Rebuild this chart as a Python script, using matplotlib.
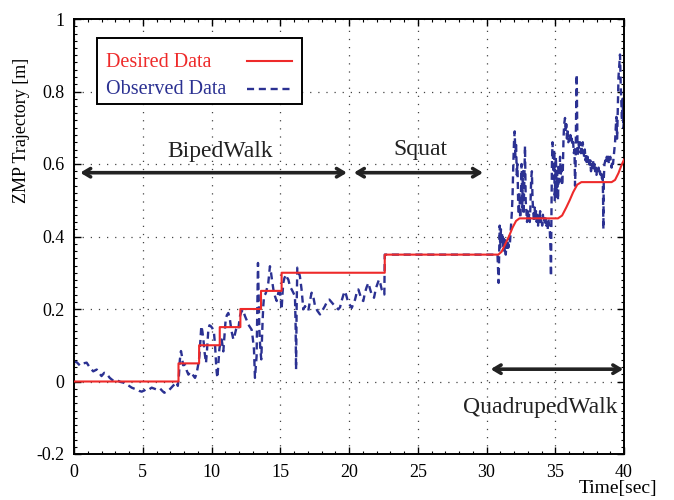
import matplotlib
matplotlib.use("Agg")
import matplotlib.pyplot as plt
from matplotlib.patches import Rectangle
from matplotlib.lines import Line2D
from matplotlib.ticker import MultipleLocator

plt.rcParams['font.family'] = ['Liberation Serif', 'DejaVu Serif']

# Desired ZMP trajectory (time [sec], value [m])
desired_t = [0, 7.6, 7.6, 9.1, 9.1, 10.6, 10.6, 12.1, 12.1, 13.6, 13.6, 15.1, 15.1,
             22.6, 22.6, 30.86, 31.1, 31.4, 31.63, 31.9, 32.15, 32.4,
             35.2, 35.5, 35.8, 36.05, 36.3, 36.6, 36.9,
             39.1, 39.35, 39.6, 39.8, 40.0]
desired_v = [0, 0, 0.05, 0.05, 0.1, 0.1, 0.15, 0.15, 0.2, 0.2, 0.25, 0.25, 0.3,
             0.3, 0.35, 0.35, 0.358, 0.382, 0.40, 0.425, 0.443, 0.45,
             0.45, 0.458, 0.48, 0.5, 0.522, 0.543, 0.55,
             0.55, 0.556, 0.575, 0.595, 0.612]

# Observed ZMP trajectory
observed_t = [
    0.0, 0.2, 0.44, 0.68, 0.92, 1.16, 1.4, 1.65, 2.0, 2.2, 2.38, 2.6, 2.86, 3.1, 3.35, 3.6,
    3.83, 4.0, 4.2, 4.4, 4.56, 4.75, 4.92, 5.1, 5.28, 5.45, 5.65, 5.85, 6.0, 6.25, 6.45,
    6.57, 6.7, 6.86, 7.05, 7.2, 7.35, 7.47, 7.55, 7.62, 7.7, 7.78, 7.85, 7.93, 8.07, 8.2,
    8.32, 8.45, 8.56, 8.7, 8.8, 8.9, 8.97, 9.05, 9.12, 9.2, 9.26, 9.33, 9.41, 9.5, 9.6,
    9.68, 9.77, 9.85, 9.94, 10.05, 10.18, 10.26, 10.33, 10.38, 10.43, 10.5, 10.57, 10.65,
    10.74, 10.8, 10.86, 10.95, 11.03, 11.12, 11.22, 11.3, 11.34, 11.45, 11.59, 11.7, 11.78,
    11.88, 11.95, 12.0, 12.07, 12.15, 12.27, 12.35, 12.44, 12.55, 12.68, 12.8, 12.92, 13.0,
    13.09, 13.13, 13.16, 13.22, 13.28, 13.33, 13.38, 13.43, 13.48, 13.55, 13.62, 13.67,
    13.72, 13.77, 13.82, 13.9, 13.96, 14.05, 14.13, 14.2, 14.25, 14.33, 14.4, 14.5, 14.62,
    14.74, 14.86, 14.98, 15.05, 15.1, 15.16, 15.22, 15.3, 15.42, 15.52, 15.59, 15.71,
    15.83, 15.95, 16.07, 16.12, 16.15, 16.19, 16.24, 16.33, 16.43, 16.55, 16.68, 16.8,
    16.92, 17.04, 17.15, 17.28, 17.4, 17.53, 17.7, 17.89, 18.05, 18.25, 18.4, 18.57, 18.7,
    18.86, 19.05, 19.22, 19.35, 19.46, 19.6, 19.71, 19.82, 19.95, 20.08, 20.2, 20.32,
    20.44, 20.56, 20.68, 20.8, 20.92, 21.04, 21.16, 21.28, 21.41, 21.53, 21.65, 21.82,
    21.92, 22.01, 22.18, 22.28, 22.38, 22.5, 22.57, 22.6, 30.8,
    30.85, 30.88, 30.92, 30.96, 31.0, 31.05, 31.1, 31.15, 31.2, 31.25, 31.3, 31.35, 31.4,
    31.45, 31.5, 31.55, 31.6, 31.65, 31.7, 31.75, 31.8, 31.85, 31.9, 31.95, 32.0, 32.05,
    32.1, 32.15, 32.2, 32.25, 32.3, 32.35, 32.4, 32.45, 32.5, 32.55, 32.6, 32.65, 32.7,
    32.75, 32.8, 32.85, 32.9, 32.95, 33.0, 33.05, 33.1, 33.15, 33.2, 33.25, 33.3, 33.35,
    33.4, 33.45, 33.5, 33.55, 33.6, 33.65, 33.7, 33.75, 33.8, 33.85, 33.9, 33.95, 34.0,
    34.05, 34.1, 34.15, 34.2, 34.25, 34.3, 34.35, 34.4, 34.45, 34.5, 34.55, 34.6, 34.66,
    34.69, 34.72, 34.76, 34.8, 34.85, 34.88, 34.92, 34.96, 35.0, 35.05, 35.1, 35.15, 35.2,
    35.25, 35.3, 35.35, 35.4, 35.45, 35.5, 35.55, 35.6, 35.65, 35.71, 35.76, 35.8, 35.85,
    35.9, 35.95, 36.0, 36.05, 36.1, 36.15, 36.2, 36.25, 36.3, 36.35, 36.4, 36.44, 36.48,
    36.52, 36.56, 36.6, 36.63, 36.68, 36.75, 36.8, 36.85, 36.9, 36.95, 37.0, 37.05, 37.1,
    37.15, 37.2, 37.25, 37.3, 37.35, 37.4, 37.45, 37.5, 37.55, 37.6, 37.65, 37.7, 37.75,
    37.8, 37.85, 37.9, 37.95, 38.0, 38.05, 38.1, 38.15, 38.2, 38.25, 38.3, 38.35, 38.4,
    38.45, 38.48, 38.5, 38.53, 38.58, 38.65, 38.7, 38.75, 38.8, 38.85, 38.9, 38.95, 39.0,
    39.05, 39.1, 39.15, 39.2, 39.25, 39.3, 39.35, 39.4, 39.45, 39.5, 39.55, 39.6, 39.65,
    39.71, 39.76, 39.8, 39.85, 39.9, 39.95, 40.0]
observed_v = [
    0.055, 0.053, 0.044, 0.05, 0.052, 0.038, 0.028, 0.033, 0.015, 0.024, 0.021, 0.01, 0.002,
    0.004, -0.001, -0.003, -0.008, -0.012, -0.017, -0.02, -0.022, -0.026, -0.028, -0.025,
    -0.02, -0.022, -0.017, -0.02, -0.022, -0.019, -0.027, -0.031, -0.028, -0.026, -0.018,
    -0.012, -0.006, -0.002, -0.012, 0.01, 0.06, 0.084, 0.07, 0.045, 0.046, 0.03, 0.019,
    0.026, 0.024, 0.015, 0.01, 0.02, 0.033, 0.05, 0.07, 0.12, 0.153, 0.14, 0.116, 0.08,
    0.051, 0.09, 0.143, 0.155, 0.153, 0.148, 0.134, 0.1, 0.051, 0.025, 0.01, 0.05, 0.088,
    0.11, 0.116, 0.1, 0.083, 0.13, 0.171, 0.183, 0.189, 0.178, 0.171, 0.14, 0.116, 0.13,
    0.143, 0.148, 0.143, 0.16, 0.18, 0.19, 0.198, 0.19, 0.18, 0.17, 0.157, 0.15, 0.143,
    0.12, 0.088, 0.04, 0.01, 0.04, 0.07, 0.2, 0.327, 0.23, 0.143, 0.09, 0.061, 0.12, 0.171,
    0.21, 0.235, 0.24, 0.245, 0.26, 0.272, 0.3, 0.318, 0.3, 0.28, 0.254, 0.235, 0.222,
    0.245, 0.245, 0.22, 0.199, 0.24, 0.272, 0.285, 0.295, 0.285, 0.281, 0.262, 0.254,
    0.245, 0.235, 0.15, 0.033, 0.2, 0.314, 0.305, 0.29, 0.254, 0.199, 0.208, 0.2, 0.195,
    0.22, 0.245, 0.235, 0.208, 0.195, 0.185, 0.195, 0.208, 0.22, 0.226, 0.22, 0.213,
    0.205, 0.199, 0.205, 0.222, 0.24, 0.249, 0.235, 0.217, 0.21, 0.203, 0.215, 0.226,
    0.245, 0.254, 0.24, 0.226, 0.222, 0.245, 0.26, 0.272, 0.255, 0.24, 0.231, 0.25, 0.263,
    0.281, 0.27, 0.254, 0.245, 0.24, 0.35, 0.35,
    0.30, 0.272, 0.35, 0.43, 0.37, 0.42, 0.38, 0.41, 0.37, 0.40, 0.36, 0.39, 0.35, 0.38,
    0.36, 0.39, 0.37, 0.40, 0.38, 0.41, 0.44, 0.47, 0.52, 0.60, 0.66, 0.69, 0.62, 0.66,
    0.57, 0.60, 0.50, 0.46, 0.52, 0.45, 0.50, 0.60, 0.48, 0.58, 0.46, 0.55, 0.65, 0.50,
    0.47, 0.44, 0.47, 0.44, 0.46, 0.44, 0.49, 0.56, 0.58, 0.50, 0.47, 0.44, 0.48, 0.45,
    0.47, 0.44, 0.46, 0.43, 0.46, 0.44, 0.47, 0.44, 0.45, 0.43, 0.46, 0.44, 0.45, 0.43,
    0.45, 0.43, 0.44, 0.42, 0.45, 0.43, 0.42, 0.36, 0.29, 0.45, 0.60, 0.66, 0.60, 0.56,
    0.64, 0.50, 0.56, 0.62, 0.51, 0.58, 0.50, 0.60, 0.55, 0.62, 0.57, 0.60, 0.54, 0.58,
    0.67, 0.71, 0.727, 0.69, 0.71, 0.67, 0.69, 0.66, 0.67, 0.66, 0.68, 0.66, 0.67, 0.65,
    0.66, 0.63, 0.64, 0.54, 0.60, 0.75, 0.847, 0.70, 0.62, 0.66, 0.64, 0.66, 0.63, 0.65,
    0.63, 0.66, 0.64, 0.62, 0.64, 0.61, 0.63, 0.60, 0.62, 0.60, 0.61, 0.59, 0.61, 0.58,
    0.60, 0.59, 0.61, 0.58, 0.60, 0.58, 0.59, 0.57, 0.59, 0.58, 0.59, 0.57, 0.58, 0.57,
    0.58, 0.56, 0.575, 0.50, 0.42, 0.56, 0.60, 0.61, 0.60, 0.62, 0.61, 0.62, 0.60, 0.61,
    0.62, 0.60, 0.59, 0.61, 0.60, 0.62, 0.64, 0.66, 0.70, 0.73, 0.67, 0.76, 0.84, 0.87,
    0.902, 0.82, 0.78, 0.72, 0.78, 0.70, 0.72]

x_ticks = [0, 5, 10, 15, 20, 25, 30, 35, 40]
y_ticks = [-0.2, 0, 0.2, 0.4, 0.6, 0.8, 1.0]
y_tick_labels = ['-0.2', '0', '0.2', '0.4', '0.6', '0.8', '1']

# phase annotations: (label, start, end, arrow y, text x, text y)
phases = [
    ('BipedWalk', 0.45, 19.85, 0.576, 10.6, 0.635),
    ('Squat', 20.35, 29.75, 0.576, 25.2, 0.64),
    ('QuadrupedWalk', 30.3, 39.95, 0.034, 33.9, -0.072),
]

series_names = ['Desired Data', 'Observed Data']

blue = '#2b3192'
red = '#ee2a2a'

fig = plt.figure(figsize=(6.74, 5.0), dpi=100)
ax = fig.add_axes([74/674, 46/500, 550/674, 435/500])

ax.plot(observed_t, observed_v, color=blue, lw=1.7, dashes=(3.0, 2.0), zorder=2)
ax.plot(desired_t, desired_v, color=red, lw=1.5, zorder=3)

ax.set_xlim(0, 40)
ax.set_ylim(-0.2, 1.0)
ax.set_xticks(x_ticks)
ax.set_yticks(y_ticks)
ax.set_yticklabels(y_tick_labels)
ax.xaxis.set_minor_locator(MultipleLocator(1))
ax.yaxis.set_minor_locator(MultipleLocator(0.02))
ax.tick_params(which='both', direction='in', top=True, right=True)
ax.tick_params(which='major', labelsize=13, length=5, width=1, pad=7)
ax.tick_params(which='minor', length=2.5, width=0.8)
for s in ax.spines.values():
    s.set_linewidth(1.4)
ax.grid(True, which='major', color='#444444', lw=0.9, linestyle=(0, (1, 5.5)))

for name, a, b, ya, tx, ty in phases:
    ax.annotate('', xy=(b, ya), xytext=(a, ya),
                arrowprops=dict(arrowstyle='<->,head_length=0.5,head_width=0.3',
                                lw=2.6, color='#222222', shrinkA=0, shrinkB=0))
    ax.text(tx, ty, name, ha='center', va='center', fontsize=17, color='#222222')

# legend box (text left, line sample right)
ax.add_patch(Rectangle((0.0418, 0.8046), 0.3727, 0.1517, transform=ax.transAxes,
                       facecolor='white', edgecolor='black', lw=1.4, zorder=5))
ax.text(0.058, 0.899, series_names[0], transform=ax.transAxes, color=red,
        fontsize=14.5, ha='left', va='center', zorder=6)
ax.text(0.058, 0.839, series_names[1], transform=ax.transAxes, color=blue,
        fontsize=14.5, ha='left', va='center', zorder=6)
ax.add_line(Line2D([0.3145, 0.3964], [0.903, 0.903], transform=ax.transAxes,
                   color=red, lw=1.5, zorder=6))
ax.add_line(Line2D([0.3145, 0.3964], [0.84, 0.84], transform=ax.transAxes,
                   color=blue, lw=1.7, dashes=(3.0, 2.0), zorder=6))

fig.text(22/674, 1 - 130/500, 'ZMP Trajectory [m]', rotation=90, ha='center',
         va='center', fontsize=13)
fig.text(657/674, 1 - 489/500, 'Time[sec]', ha='right', va='center', fontsize=14)

fig.savefig('out.png', dpi=100)
